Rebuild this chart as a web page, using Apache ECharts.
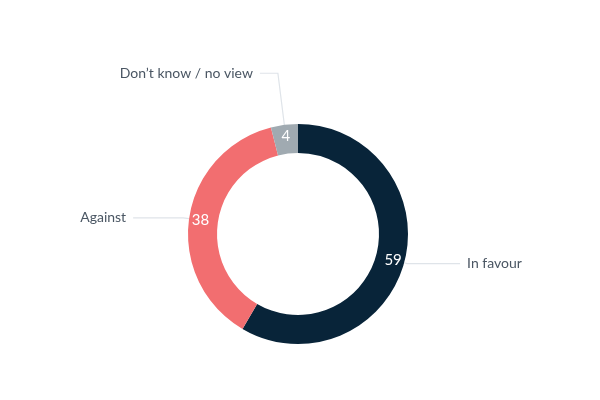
<!DOCTYPE html>
<html>
<head>
<meta charset="utf-8">
<style>
  html, body { margin: 0; padding: 0; background: #ffffff; }
  #chart { width: 600px; height: 400px; }
</style>
<script src="https://cdn.jsdelivr.net/npm/echarts@6/dist/echarts.min.js"></script>
</head>
<body>
<div id="chart"></div>
<script>
// Chart data
const categories = ['In favour', 'Against', 'Don\u2019t know / no view'];
const values = [59, 38, 4];

// Styling per slice
const sliceColors = ['#082439', '#f26e70', '#a0aab1'];
const leaderLengths = [[3, 53], [6, 50], [52, 18]];

const chart = echarts.init(document.getElementById('chart'));

const ringData = categories.map((name, i) => ({
    name: name,
    value: values[i],
    itemStyle: { color: sliceColors[i] }
}));

const outerData = categories.map((name, i) => ({
    name: name,
    value: values[i],
    labelLine: { length: leaderLengths[i][0], length2: leaderLengths[i][1] }
}));

chart.setOption({
    animation: false,
    series: [
        {
            // ring with value labels
            type: 'pie',
            center: [298, 234],
            radius: [81, 110],
            startAngle: 90,
            clockwise: true,
            silent: true,
            data: ringData,
            label: {
                position: 'inside',
                formatter: '{c}',
                color: '#ffffff',
                fontFamily: 'Lato',
                fontSize: 15
            },
            labelLine: { show: false }
        },
        {
            // invisible copy that carries the category labels
            type: 'pie',
            center: [298, 234],
            radius: [81, 110],
            startAngle: 90,
            clockwise: true,
            silent: true,
            data: outerData,
            itemStyle: { color: 'rgba(0,0,0,0)' },
            label: {
                position: 'outside',
                formatter: '{b}',
                color: '#4a5663',
                fontFamily: 'Lato',
                fontSize: 14,
                distanceToLabelLine: 7
            },
            labelLine: {
                show: true,
                smooth: false,
                lineStyle: { color: '#dfe4e9', width: 1.2 }
            }
        }
    ]
});
</script>
</body>
</html>
